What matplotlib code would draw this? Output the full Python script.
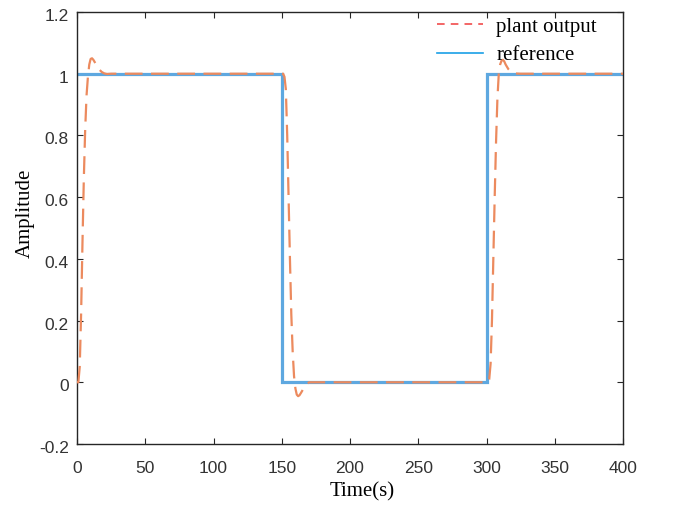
import matplotlib
matplotlib.use("Agg")
import matplotlib.pyplot as plt
import matplotlib.transforms as mtransforms
from matplotlib.lines import Line2D

# reference signal (square wave)
ref_t = [0, 150, 150, 300, 300, 400]
ref_y = [1, 1, 0, 0, 1, 1]

# plant output
plant_t = [0, 1, 2, 3, 4, 5, 6, 7, 8, 9, 10, 11, 12, 14, 16, 18, 20, 22, 25, 30,
           150, 151, 152, 153, 154, 155, 156, 157, 158, 159, 160, 161, 162, 163, 164, 166, 168, 170, 175,
           300, 301, 302, 303, 304, 305, 306, 307, 308, 309, 310, 311, 312, 313, 314, 316, 318, 320, 325, 400]
plant_y = [0, 0.0, 0.05, 0.22, 0.45, 0.66, 0.82, 0.93, 0.99, 1.03, 1.048, 1.05, 1.045, 1.03, 1.015, 1.006, 1.001, 0.999, 1.0, 1.0,
           1.0, 1.0, 0.99, 0.95, 0.8, 0.6, 0.4, 0.22, 0.1, 0.02, -0.02, -0.04, -0.045, -0.042, -0.035, -0.02, -0.008, 0.0, 0.0,
           0.0, 0.0, 0.01, 0.06, 0.2, 0.4, 0.6, 0.78, 0.92, 1.0, 1.03, 1.042, 1.045, 1.04, 1.03, 1.015, 1.006, 1.001, 1.0, 1.0]

xticks = [0, 50, 100, 150, 200, 250, 300, 350, 400]
yticks = [-0.2, 0, 0.2, 0.4, 0.6, 0.8, 1, 1.2]
yticklabels = ["-0.2", "0", "0.2", "0.4", "0.6", "0.8", "1", "1.2"]

fig = plt.figure(figsize=(6.74, 5.05), dpi=100)
ax = fig.add_axes([77/674, 1-444/505, (623-77)/674, (444-12)/505])

ax.plot(ref_t, ref_y, color="#5EA8E0", lw=2.3, solid_joinstyle="miter", zorder=2)
ax.plot(plant_t, plant_y, color="#EC8A5E", lw=1.6, ls=(0, (8, 3.8)), zorder=3)

ax.set_xlim(0, 400)
ax.set_ylim(-0.2, 1.2)
ax.set_xticks(xticks)
ax.set_xticklabels([str(v) for v in xticks], fontfamily="Liberation Sans", fontsize=12.5)
ax.set_yticks(yticks)
ax.set_yticklabels(yticklabels, fontfamily="Liberation Sans", fontsize=12.5)
ax.tick_params(direction="in", top=True, right=True, length=4.5, width=0.8,
               colors="#262626", labelcolor="#333333")
ax.tick_params(axis="x", pad=12.5)
ax.tick_params(axis="y", pad=6)
shift = mtransforms.ScaledTranslation(0, -3/100, fig.dpi_scale_trans)
for lab in ax.get_yticklabels():
    lab.set_transform(lab.get_transform() + shift)
for s in ax.spines.values():
    s.set_linewidth(1.0)
    s.set_color("#262626")

ax.set_xlabel("Time(s)", fontfamily="Liberation Serif", fontsize=15)
ax.set_ylabel("Amplitude", fontfamily="Liberation Serif", fontsize=15)
ax.xaxis.set_label_coords((362-77)/546, (444-482)/432)
ax.yaxis.set_label_coords((35-77)/546, (444-213)/432)

handles = [Line2D([], [], color="#F03C3C", lw=1.1, ls=(0, (5, 4))),
           Line2D([], [], color="#1AA0E6", lw=1.2)]
leg = ax.legend(handles, ["plant output", "reference"], loc="upper left", frameon=False,
                prop={"family": "Liberation Serif", "size": 15}, handlelength=2.2,
                bbox_to_anchor=((437-77)/546, (444-17)/432), borderaxespad=0, borderpad=0,
                labelspacing=0.42, handletextpad=0.65)

fig.savefig("out.png", dpi=100)
